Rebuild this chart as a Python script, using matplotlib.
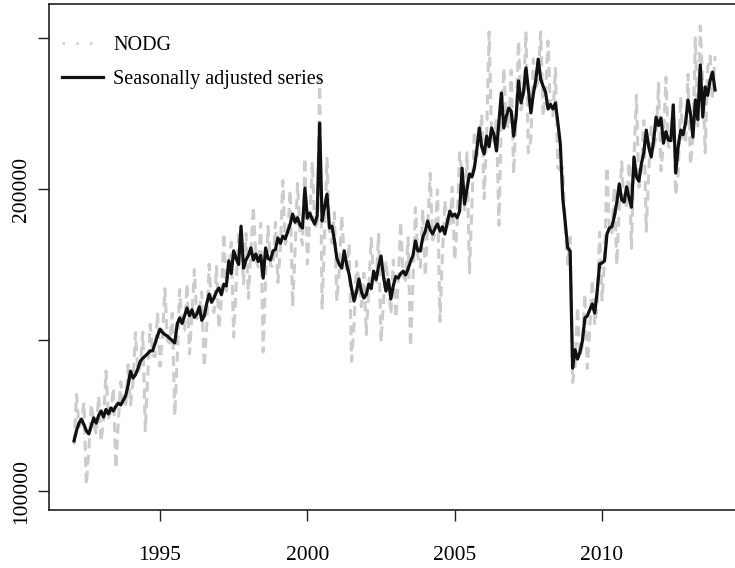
import numpy as np
import pandas as pd
import matplotlib
import matplotlib.pyplot as plt
from matplotlib.lines import Line2D

matplotlib.use("Agg")

# monthly, Feb 1992 .. Nov 2013, values in thousands
start = "1992-02"
end = "2013-11"

sa_k = [
    # 1992 (Feb-Dec)
    116.6, 120.0, 122.5, 123.8, 122.0, 120.0, 118.9, 121.5, 124.2, 122.5, 125.0,
    # 1993
    126.5, 124.5, 127.0, 125.5, 127.5, 126.5, 128.0, 129.1, 128.5, 130.0, 131.5, 135.0,
    # 1994
    139.7, 137.4, 138.5, 140.5, 143.0, 144.0, 144.7, 145.5, 146.4, 146.4, 149.0, 151.5,
    # 1995
    153.6, 152.5, 151.8, 151.3, 150.5, 149.8, 149.0, 155.3, 157.3, 155.5, 158.0, 160.6,
    # 1996
    158.0, 160.0, 157.5, 158.6, 161.0, 156.5, 157.9, 162.0, 165.2, 162.5, 164.0, 166.0,
    # 1997
    167.2, 165.0, 168.5, 167.9, 176.2, 172.0, 179.5, 177.0, 175.0, 187.7, 173.8, 176.5,
    # 1998
    178.0, 180.5, 176.5, 178.5, 176.0, 178.0, 170.5, 180.5, 177.0, 176.5, 179.5, 180.0,
    # 1999
    183.8, 182.0, 184.4, 183.5, 186.0, 188.4, 191.7, 189.0, 190.5, 188.0, 187.1, 200.3,
    # 2000
    190.4, 192.0, 190.0, 188.4, 191.0, 221.8, 189.4, 194.0, 198.3, 187.1, 187.7, 183.0,
    # 2001
    177.1, 175.0, 173.8, 179.5, 175.0, 171.8, 167.0, 162.9, 166.0, 170.2, 166.0, 163.9,
    # 2002
    165.0, 168.5, 167.0, 172.8, 170.0, 174.5, 177.8, 171.0, 166.2, 170.0, 163.6, 168.0,
    # 2003
    171.0, 170.5, 172.0, 172.8, 171.5, 173.5, 176.0, 178.0, 182.8, 179.5, 179.5, 184.0,
    # 2004
    186.0, 189.4, 186.5, 185.1, 187.0, 188.4, 186.0, 187.5, 185.1, 189.0, 192.7, 191.0,
    # 2005
    191.7, 190.5, 192.7, 206.9, 195.0, 200.0, 205.0, 204.0, 206.9, 213.0, 220.2, 214.0,
    # 2006
    211.6, 217.5, 214.0, 220.2, 218.0, 212.6, 222.0, 231.8, 220.2, 224.0, 226.8, 225.8,
    # 2007
    217.5, 224.0, 235.8, 228.5, 232.0, 240.1, 233.0, 225.2, 231.4, 236.0, 243.0, 236.4,
    # 2008
    234.0, 232.0, 226.5, 228.0, 226.5, 228.5, 222.0, 214.9, 197.0, 189.0, 180.5, 179.5,
    # 2009
    140.7, 146.8, 143.7, 146.0, 149.7, 157.3, 158.0, 160.0, 161.9, 158.9, 166.0, 175.2,
    # 2010
    175.5, 176.2, 185.1, 187.1, 187.5, 191.0, 195.5, 201.7, 196.4, 195.7, 200.7, 197.0,
    # 2011
    194.0, 210.6, 204.0, 202.6, 208.3, 212.0, 219.5, 214.0, 210.6, 216.0, 223.8, 221.0,
    # 2012
    223.5, 215.2, 219.0, 216.2, 216.0, 227.8, 205.3, 214.0, 219.5, 218.0, 221.9, 229.5,
    # 2013 (Jan-Nov)
    225.0, 217.2, 229.5, 223.0, 241.1, 223.8, 233.8, 231.0, 236.0, 238.7, 232.8,
]

nodg_k = [
    # 1992 (Feb-Dec)
    115.4, 132.0, 121.3, 122.6, 129.3, 102.0, 113.0, 128.8, 123.0, 118.8, 131.3,
    # 1993
    116.4, 123.3, 139.7, 124.2, 126.2, 134.1, 107.5, 122.6, 136.2, 128.7, 127.6, 141.8,
    # 1994
    128.5, 136.0, 152.4, 139.1, 141.6, 152.6, 120.0, 138.2, 155.2, 144.9, 144.5, 159.1,
    # 1995
    141.3, 151.0, 167.0, 149.8, 149.0, 158.8, 125.0, 143.5, 166.7, 153.9, 153.3, 168.6,
    # 1996
    145.4, 158.4, 173.3, 157.0, 159.4, 165.9, 141.0, 153.9, 175.1, 160.9, 159.1, 174.3,
    # 1997
    153.8, 163.4, 185.4, 166.2, 174.4, 182.3, 151.0, 168.2, 185.5, 185.8, 168.6, 185.3,
    # 1998
    163.8, 178.7, 194.2, 176.7, 174.2, 188.7, 146.0, 171.5, 187.6, 174.7, 174.1, 189.0,
    # 1999
    169.1, 180.2, 202.8, 181.7, 184.1, 199.7, 161.0, 179.6, 201.9, 186.1, 181.5, 210.3,
    # 2000
    175.2, 190.1, 209.0, 186.5, 189.1, 237.0, 160.0, 184.3, 210.2, 185.2, 182.1, 192.2,
    # 2001
    162.9, 173.3, 191.2, 177.7, 173.3, 182.1, 143.0, 154.8, 176.0, 168.5, 161.0, 172.1,
    # 2002
    151.8, 166.8, 183.7, 171.1, 168.3, 185.0, 149.4, 162.5, 176.2, 168.3, 158.7, 176.4,
    # 2003
    157.3, 168.8, 189.2, 171.1, 169.8, 183.9, 147.8, 169.1, 193.8, 177.7, 174.1, 193.2,
    # 2004
    171.1, 187.5, 205.2, 183.2, 185.1, 199.7, 156.2, 178.1, 196.2, 187.1, 186.9, 200.6,
    # 2005
    176.4, 188.6, 212.0, 204.8, 193.1, 212.0, 172.2, 193.8, 219.3, 210.9, 213.6, 224.7,
    # 2006
    196.8, 217.5, 252.0, 218.0, 215.8, 223.2, 188.0, 222.5, 240.0, 221.8, 220.0, 239.3,
    # 2007
    205.0, 224.0, 249.0, 226.2, 229.7, 252.1, 212.0, 216.2, 243.0, 233.6, 235.7, 252.0,
    # 2008
    224.0, 232.0, 249.0, 225.7, 224.2, 240.0, 207.0, 206.3, 206.9, 187.1, 175.1, 184.0,
    # 2009
    136.0, 141.0, 161.0, 144.5, 148.2, 165.2, 140.6, 153.6, 170.0, 155.0, 161.0, 185.7,
    # 2010
    163.2, 176.2, 207.3, 185.2, 185.6, 200.6, 175.0, 193.6, 209.0, 193.7, 194.7, 208.8,
    # 2011
    180.4, 210.6, 231.0, 200.6, 206.2, 222.6, 186.0, 205.4, 221.1, 213.8, 217.1, 235.0,
    # 2012
    206.0, 215.2, 237.0, 214.0, 213.8, 228.0, 198.0, 205.4, 230.5, 215.8, 215.2, 238.0,
    # 2013 (Jan-Nov)
    208.0, 217.2, 250.0, 220.8, 254.0, 235.0, 212.0, 240.0, 244.0, 230.0, 244.0,
]

dates = pd.date_range(start, end, freq="MS")
t = dates.year + (dates.month - 1) / 12.0

sa = np.array(sa_k) * 1000
nodg = np.array(nodg_k) * 1000

plt.rcParams["font.family"] = ["Liberation Serif", "DejaVu Serif"]

fig = plt.figure(figsize=(7.35, 5.68), dpi=100)
ax = fig.add_axes([49 / 735, 58 / 568, 1 - 49 / 735, 506 / 568])

ax.plot(t, nodg, color="#cccccc", linewidth=2.2, linestyle=(0, (3.3, 2.0)))
ax.plot(t, sa, color="#111111", linewidth=2.3)

ax.set_xlim(1991.233, 2014.511)
ax.set_ylim(93710, 261260)

ax.set_xticks([1995, 2000, 2005, 2010])
ax.set_xticklabels(["1995", "2000", "2005", "2010"])
ax.set_yticks([100000, 150000, 200000, 250000])
ax.set_yticklabels(["100000", "", "200000", ""], rotation=90, va="center")

ax.tick_params(axis="both", direction="out", length=8, width=1.0, labelsize=15.5, color="#222222")
ax.tick_params(axis="x", pad=18)
ax.tick_params(axis="y", pad=5)

for side in ["left", "bottom", "top"]:
    ax.spines[side].set_linewidth(1.2)
    ax.spines[side].set_color("#222222")
ax.spines["right"].set_visible(False)

handles = [
    Line2D([], [], color="#cccccc", linewidth=1.8, linestyle=(0, (1, 4.5))),
    Line2D([], [], color="#111111", linewidth=2.3),
]
ax.legend(handles, ["NODG", "Seasonally adjusted series"],
          loc="upper left", bbox_to_anchor=(0.019, 0.937),
          frameon=False, fontsize=14.5, handlelength=2.05,
          handletextpad=0.5, labelspacing=0.72, borderpad=0, borderaxespad=0)

fig.savefig("out.png", dpi=100)
plt.close(fig)
